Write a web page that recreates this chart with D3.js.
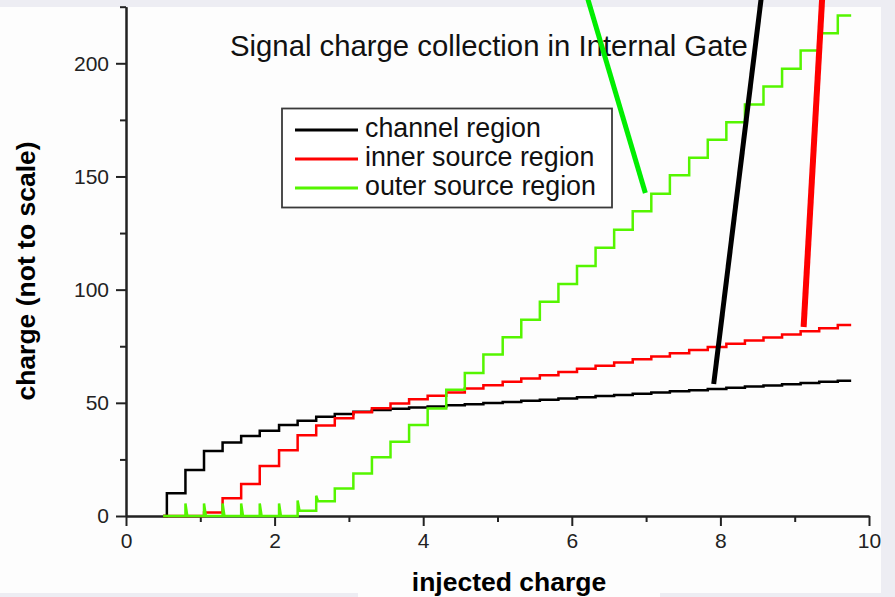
<!DOCTYPE html>
<html>
<head>
<meta charset="utf-8">
<script src="https://cdn.jsdelivr.net/npm/d3@7"></script>
<style>
	body { margin: 0; background: #ededf3; }
	svg { display: block; font-family: "Liberation Sans", Arial, sans-serif; }
</style>
</head>
<body>
<script>
// injected charge at each step (start, risers, end)
const charge = [0.50, 0.55, 0.80, 1.05, 1.30, 1.55, 1.80, 2.06, 2.31, 2.56, 2.81, 3.06, 3.31,
	3.56, 3.81, 4.06, 4.31, 4.56, 4.81, 5.07, 5.32, 5.57, 5.82, 6.07, 6.32, 6.57, 6.82, 7.07,
	7.32, 7.58, 7.83, 8.08, 8.33, 8.58, 8.83, 9.08, 9.33, 9.58, 9.76];

const channelRegion = [0, 10.0, 20.3, 28.7, 32.5, 35.3, 37.7, 40.2, 42.1, 43.8, 45.1, 46.1, 46.8,
	47.4, 47.9, 48.4, 48.9, 49.4, 49.9, 50.4, 50.9, 51.4, 51.9, 52.5, 53.0, 53.5, 54.0, 54.6,
	55.1, 55.6, 56.1, 56.7, 57.2, 57.7, 58.2, 58.8, 59.3, 59.8, 59.8];

const innerSource = [0, 0, 0, 1.5, 7.8, 14.1, 22.1, 29.1, 35.7, 40.0, 43.2, 45.8, 47.6,
	49.7, 51.6, 53.1, 54.6, 56.3, 57.8, 59.3, 60.8, 62.2, 63.6, 65.0, 66.4, 67.8, 69.2, 70.5,
	71.9, 73.3, 74.7, 76.1, 77.5, 78.9, 80.2, 81.6, 83.0, 84.4, 84.4];

const outerSource = [0, 0, 0, 0, 0, 0, 0, 0, 2.3, 6.5, 12.2, 18.8, 25.9,
	32.8, 40.2, 47.5, 55.8, 63.2, 71.3, 79.0, 86.7, 94.6, 102.5, 110.4, 118.5, 126.5, 134.6, 142.4,
	150.5, 158.3, 166.2, 174.0, 181.8, 189.8, 197.6, 205.6, 213.3, 221.1, 221.1];

// short spikes of the outer source curve while it is still near zero
const outerPeaks = [0, 0, 5.5, 5.5, 5.5, 5.5, 5.5, 5.5, 6.9, 9.0];

const yMajor = [0, 50, 100, 150, 200];
const yMinor = [25, 75, 125, 175, 225];
const xMajor = [0, 2, 4, 6, 8, 10];
const xMinor = [1, 3, 5, 7, 9];

const seriesNames = ["channel region", "inner source region", "outer source region"];
const seriesColors = ["#000000", "#ff0000", "#55f500"];

// thick pointer lines drawn over the plot (charge, value) pairs
const pointerStart = [[6.21, 229], [8.55, 229], [9.37, 229]];
const pointerEnd = [[6.99, 142.7], [7.91, 58.3], [9.12, 83.5]];
const pointerColors = ["#00ee00", "#000000", "#ff0000"];
const pointerWidths = [5, 5, 6];

const width = 895, height = 597;

const svg = d3.select("body").append("svg")
	.attr("width", width)
	.attr("height", height);

// white panels on the grey page
svg.append("rect").attr("x", 0).attr("y", 7).attr("width", 881).attr("height", 586).attr("fill", "#fdfdfd");
svg.append("rect").attr("x", 358).attr("y", 590).attr("width", 302).attr("height", 7).attr("fill", "#fdfdfd");

const x = d3.scaleLinear().domain([0, 10]).range([126, 869]);
const y = d3.scaleLinear().domain([0, 225]).range([516, 6.7]);

// axes
const axisColor = "#222";
function styleAxis(g) {
	g.selectAll("path, line").attr("stroke", axisColor).attr("stroke-width", 2);
	g.selectAll("text").attr("fill", axisColor).style("font-size", "21px")
		.style("font-family", "'Liberation Sans', Arial, sans-serif");
}

svg.append("g").attr("transform", "translate(126,0)")
	.call(d3.axisLeft(y).tickValues(yMinor).tickSize(6).tickSizeOuter(0).tickFormat(""))
	.call(styleAxis);
svg.append("g").attr("transform", "translate(126,0)")
	.call(d3.axisLeft(y).tickValues(yMajor).tickSize(10).tickSizeOuter(0).tickPadding(7))
	.call(styleAxis);

svg.append("g").attr("transform", "translate(0,516)")
	.call(d3.axisBottom(x).tickValues(xMinor).tickSize(6).tickSizeOuter(0).tickFormat(""))
	.call(styleAxis);
svg.append("g").attr("transform", "translate(0,516)")
	.call(d3.axisBottom(x).tickValues(xMajor).tickSize(10).tickSizeOuter(0).tickPadding(7))
	.call(styleAxis);

// axis titles
svg.append("text")
	.attr("transform", "translate(35,271) rotate(-90)")
	.attr("text-anchor", "middle")
	.style("font-size", "26.5px")
	.style("font-weight", "bold")
	.text("charge (not to scale)");

svg.append("text")
	.attr("x", 509)
	.attr("y", 591)
	.attr("text-anchor", "middle")
	.style("font-size", "26.5px")
	.style("font-weight", "bold")
	.text("injected charge");

// title
svg.append("text")
	.attr("x", 230)
	.attr("y", 56)
	.style("font-size", "29.3px")
	.attr("fill", "#111")
	.text("Signal charge collection in Internal Gate");

// step curves
const stepLine = d3.line()
	.x(d => x(d[0]))
	.y(d => y(d[1]))
	.curve(d3.curveStepAfter);

[channelRegion, innerSource].forEach((vals, i) => {
	svg.append("path")
		.datum(charge.map((c, j) => [c, vals[j]]))
		.attr("fill", "none")
		.attr("stroke", seriesColors[i])
		.attr("stroke-width", 2.5)
		.attr("d", stepLine);
});

// outer source: steps with spikes at the risers
const outerPts = [];
charge.forEach((c, j) => {
	const level = outerSource[j];
	if (j > 0) {
		outerPts.push([c, outerSource[j - 1]]);
		const peak = outerPeaks[j] || 0;
		if (peak > level) {
			outerPts.push([c, peak]);
			outerPts.push([c + 0.025, level]);
			return;
		}
	}
	outerPts.push([c, level]);
});

svg.append("path")
	.datum(outerPts)
	.attr("fill", "none")
	.attr("stroke", seriesColors[2])
	.attr("stroke-width", 2.5)
	.attr("stroke-linejoin", "miter")
	.attr("d", d3.line().x(d => x(d[0])).y(d => y(d[1])));

// legend
const legend = svg.append("g");
legend.append("rect")
	.attr("x", 282).attr("y", 108.5)
	.attr("width", 330).attr("height", 99)
	.attr("fill", "#fff")
	.attr("stroke", "#3a3a3a")
	.attr("stroke-width", 1.8);

seriesNames.forEach((name, i) => {
	const ry = 130 + i * 29;
	legend.append("line")
		.attr("x1", 295).attr("x2", 358)
		.attr("y1", ry).attr("y2", ry)
		.attr("stroke", seriesColors[i])
		.attr("stroke-width", 3);
	legend.append("text")
		.attr("x", 365).attr("y", ry + 7)
		.style("font-size", "26.8px")
		.attr("fill", "#111")
		.text(name);
});

// pointer lines
pointerStart.forEach((p, i) => {
	svg.append("line")
		.attr("x1", x(p[0])).attr("y1", y(p[1]))
		.attr("x2", x(pointerEnd[i][0])).attr("y2", y(pointerEnd[i][1]))
		.attr("stroke", pointerColors[i])
		.attr("stroke-width", pointerWidths[i]);
});
</script>
</body>
</html>
